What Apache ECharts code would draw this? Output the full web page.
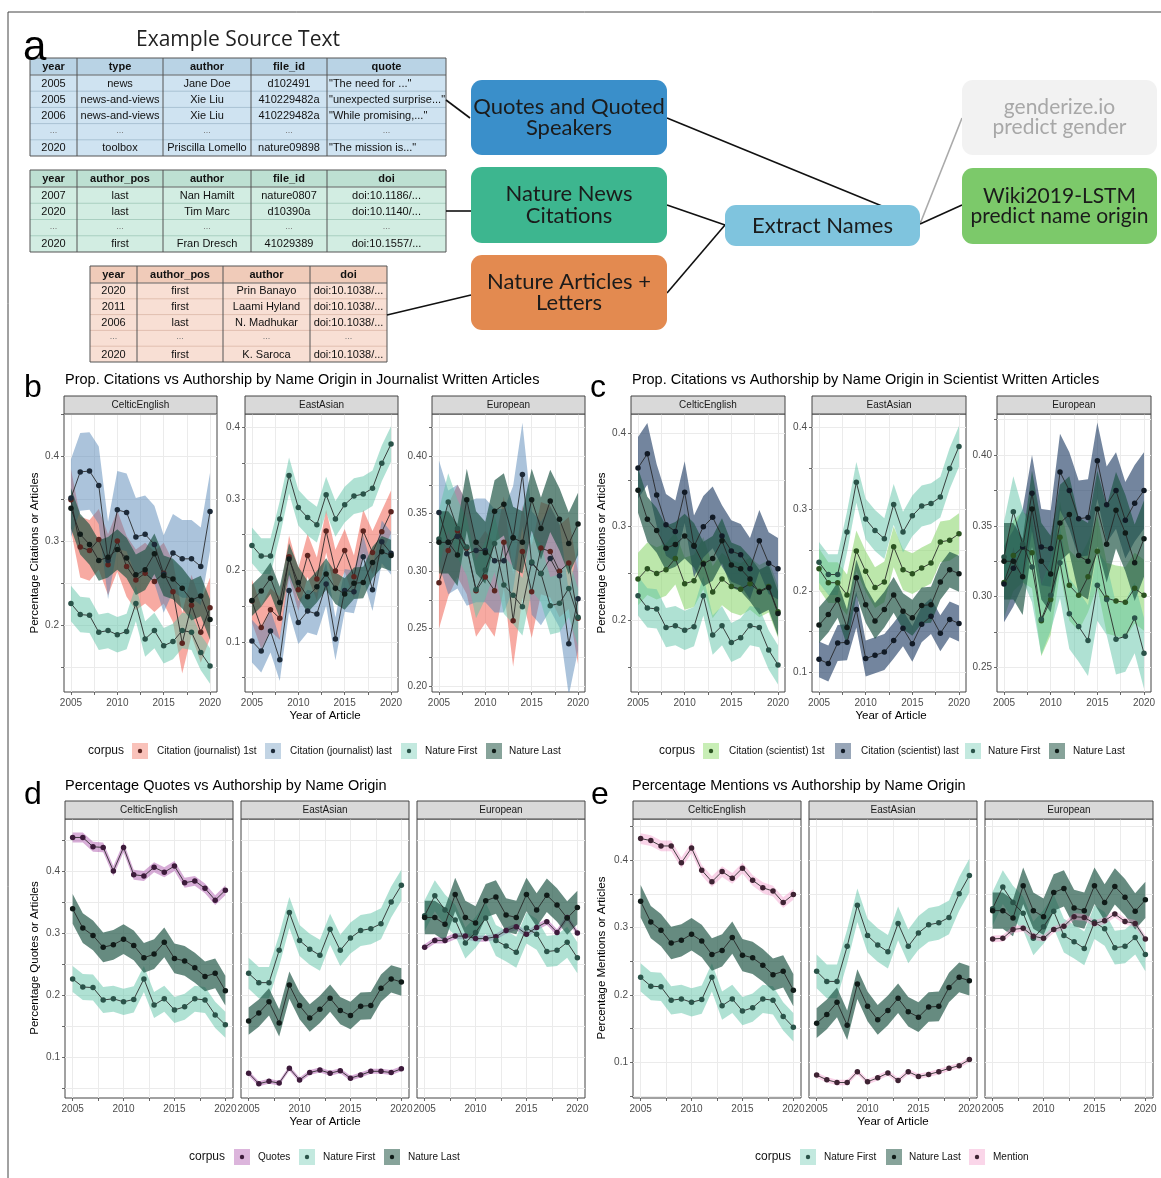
<!DOCTYPE html>
<html><head><meta charset="utf-8">
<script src="https://cdn.jsdelivr.net/npm/echarts@6/dist/echarts.min.js"></script>
<style>html,body{margin:0;padding:0;background:#fff}#c{width:1161px;height:1178px}</style>
</head><body><div id="c"></div>
<script>
// ---------------- DATA ----------------
const years = [2005,2006,2007,2008,2009,2010,2011,2012,2013,2014,2015,2016,2017,2018,2019,2020];
const regions = ['CelticEnglish','EastAsian','European'];

const natureFirstCeltic   = [0.226,0.213,0.212,0.192,0.194,0.189,0.193,0.226,0.184,0.194,0.176,0.181,0.194,0.192,0.168,0.152];
const natureFirstEastAsian= [0.235,0.220,0.220,0.272,0.333,0.288,0.274,0.264,0.306,0.272,0.292,0.304,0.307,0.315,0.350,0.377];
const natureFirstEuropean = [0.328,0.360,0.337,0.321,0.284,0.301,0.324,0.288,0.279,0.269,0.308,0.298,0.270,0.272,0.285,0.260];

const natureLastCeltic    = [0.339,0.308,0.296,0.277,0.281,0.290,0.280,0.260,0.266,0.285,0.259,0.255,0.244,0.230,0.235,0.207];
const natureLastEastAsian = [0.158,0.171,0.189,0.155,0.216,0.183,0.163,0.177,0.195,0.175,0.167,0.182,0.183,0.211,0.226,0.221];
const natureLastEuropean  = [0.325,0.325,0.314,0.362,0.325,0.316,0.352,0.358,0.329,0.325,0.362,0.337,0.361,0.345,0.324,0.341];

const journalist1stCeltic    = [0.349,0.293,0.289,0.302,0.272,0.300,0.270,0.254,0.262,0.252,0.262,0.240,0.179,0.224,0.192,0.221];
const journalist1stEastAsian = [0.157,0.120,0.145,0.133,0.219,0.173,0.221,0.188,0.255,0.199,0.228,0.191,0.255,0.225,0.254,0.282];
const journalist1stEuropean  = [0.290,0.318,0.335,0.320,0.283,0.295,0.283,0.325,0.257,0.317,0.282,0.320,0.317,0.300,0.307,0.259];

const journalistLastCeltic    = [0.351,0.382,0.383,0.366,0.277,0.337,0.334,0.305,0.308,0.296,0.261,0.286,0.279,0.279,0.270,0.335];
const journalistLastEastAsian = [0.101,0.087,0.115,0.075,0.172,0.127,0.143,0.139,0.181,0.104,0.172,0.170,0.219,0.173,0.240,0.224];
const journalistLastEuropean  = [0.351,0.325,0.330,0.315,0.318,0.318,0.309,0.309,0.329,0.384,0.307,0.298,0.311,0.296,0.237,0.276];

const scientist1stCeltic    = [0.244,0.255,0.250,0.254,0.266,0.239,0.242,0.261,0.230,0.244,0.236,0.233,0.239,0.231,0.236,0.209];
const scientist1stEastAsian = [0.227,0.210,0.210,0.195,0.249,0.224,0.204,0.211,0.254,0.226,0.221,0.228,0.234,0.260,0.262,0.270];
const scientist1stEuropean  = [0.310,0.329,0.335,0.331,0.283,0.298,0.342,0.308,0.301,0.314,0.332,0.299,0.297,0.296,0.306,0.301];

const scientistLastCeltic    = [0.363,0.378,0.334,0.302,0.295,0.337,0.279,0.300,0.310,0.290,0.274,0.270,0.255,0.285,0.261,0.255];
const scientistLastEastAsian = [0.116,0.111,0.136,0.137,0.177,0.117,0.121,0.125,0.139,0.154,0.135,0.159,0.169,0.148,0.165,0.160];
const scientistLastEuropean  = [0.309,0.320,0.335,0.373,0.335,0.334,0.388,0.375,0.355,0.356,0.396,0.365,0.375,0.354,0.366,0.375];

const quotesCeltic    = [0.454,0.454,0.439,0.438,0.400,0.438,0.394,0.392,0.406,0.398,0.408,0.381,0.384,0.372,0.353,0.369];
const quotesEastAsian = [0.074,0.057,0.061,0.058,0.082,0.063,0.075,0.079,0.074,0.078,0.066,0.071,0.077,0.077,0.075,0.081];
const quotesEuropean  = [0.277,0.288,0.288,0.295,0.295,0.291,0.291,0.294,0.304,0.310,0.298,0.309,0.318,0.301,0.325,0.300];

const mentionCeltic    = [0.432,0.429,0.421,0.421,0.396,0.418,0.385,0.368,0.383,0.373,0.388,0.370,0.359,0.354,0.337,0.349];
const mentionEastAsian = [0.081,0.074,0.070,0.070,0.086,0.071,0.077,0.084,0.073,0.086,0.079,0.082,0.086,0.091,0.095,0.104];
const mentionEuropean  = [0.283,0.284,0.297,0.299,0.287,0.284,0.297,0.302,0.316,0.315,0.306,0.310,0.320,0.309,0.306,0.283];

// ribbon half widths (Celtic, EastAsian, European)
const natureFirstBand    = [0.021,0.025,0.025];
const natureLastBand     = [0.024,0.022,0.027];
const journalist1stBand  = [0.036,0.030,0.040];
const journalistLastBand = [0.046,0.030,0.045];
const scientist1stBand   = [0.028,0.025,0.025];
const scientistLastBand  = [0.033,0.022,0.027];
const quotesBand         = [0.008,0.004,0.005];
const mentionBand        = [0.008,0.004,0.005];

// tick labels
const xLabelValues = [2005,2010,2015,2020];
const xGridValues  = [2005,2007.5,2010,2012.5,2015,2017.5,2020];
const yLabelsTenths = [0.1,0.2,0.3,0.4];
const yGridTenths   = [0.05,0.1,0.15,0.2,0.25,0.3,0.35,0.4,0.45];
const yLabelsTwentieths = [0.2,0.25,0.3,0.35,0.4];
const yGridTwentieths   = [0.2,0.225,0.25,0.275,0.3,0.325,0.35,0.375,0.4,0.425];

// ---------------- STYLE ----------------
const FONT = '"Liberation Sans", Arial, sans-serif';
const corpusStyle = {
  'Citation (journalist) 1st':  {fill:'rgba(240,100,85,0.55)',  key:'#f9c2ba', dot:'#5b2520'},
  'Citation (journalist) last': {fill:'rgba(80,130,180,0.48)',  key:'#c2d4e4', dot:'#1d2a38'},
  'Nature First':               {fill:'rgba(95,195,168,0.5)',   key:'#c3e9df', dot:'#2a5349'},
  'Nature Last':                {fill:'rgba(30,84,68,0.68)',    key:'#87a39a', dot:'#101b18'},
  'Citation (scientist) 1st':   {fill:'rgba(140,214,110,0.58)', key:'#c8eeb6', dot:'#2b5321'},
  'Citation (scientist) last':  {fill:'rgba(42,70,108,0.66)',   key:'#98a6b8', dot:'#111a25'},
  'Quotes':                     {fill:'rgba(160,60,160,0.42)',  key:'#dcb5dc', dot:'#3d1b3b'},
  'Mention':                    {fill:'rgba(240,150,200,0.42)', key:'#fad6e9', dot:'#3e2333'}
};

const panels = [
  {letter:'b', top:414, height:278, width:153, lefts:[64,245,432],
   ranges:[[0.1212,0.4506],[0.0297,0.419],[0.195,0.4365]],
   yLabels:[yLabelsTenths,yLabelsTenths,yLabelsTwentieths], yGrids:[yGridTenths,yGridTenths,yGridTwentieths],
   digits:[1,1,2], showY:[true,true,true],
   corpora:[
     ['Citation (journalist) 1st',[journalist1stCeltic,journalist1stEastAsian,journalist1stEuropean],journalist1stBand],
     ['Citation (journalist) last',[journalistLastCeltic,journalistLastEastAsian,journalistLastEuropean],journalistLastBand],
     ['Nature First',[natureFirstCeltic,natureFirstEastAsian,natureFirstEuropean],natureFirstBand],
     ['Nature Last',[natureLastCeltic,natureLastEastAsian,natureLastEuropean],natureLastBand]]},
  {letter:'c', top:414, height:278, width:154, lefts:[631,812,997],
   ranges:[[0.123,0.4207],[0.076,0.4168],[0.2327,0.429]],
   yLabels:[yLabelsTenths,yLabelsTenths,yLabelsTwentieths], yGrids:[yGridTenths,yGridTenths,yGridTwentieths],
   digits:[1,1,2], showY:[true,true,true],
   corpora:[
     ['Citation (scientist) 1st',[scientist1stCeltic,scientist1stEastAsian,scientist1stEuropean],scientist1stBand],
     ['Citation (scientist) last',[scientistLastCeltic,scientistLastEastAsian,scientistLastEuropean],scientistLastBand],
     ['Nature First',[natureFirstCeltic,natureFirstEastAsian,natureFirstEuropean],natureFirstBand],
     ['Nature Last',[natureLastCeltic,natureLastEastAsian,natureLastEuropean],natureLastBand]]},
  {letter:'d', top:819, height:279, width:168, lefts:[65,241,417],
   ranges:[[0.034,0.4838],[0.034,0.4838],[0.034,0.4838]],
   yLabels:[yLabelsTenths,yLabelsTenths,yLabelsTenths], yGrids:[yGridTenths,yGridTenths,yGridTenths],
   digits:[1,1,1], showY:[true,false,false],
   corpora:[
     ['Quotes',[quotesCeltic,quotesEastAsian,quotesEuropean],quotesBand],
     ['Nature First',[natureFirstCeltic,natureFirstEastAsian,natureFirstEuropean],natureFirstBand],
     ['Nature Last',[natureLastCeltic,natureLastEastAsian,natureLastEuropean],natureLastBand]]},
  {letter:'e', top:819, height:279, width:168, lefts:[633,809,985],
   ranges:[[0.047,0.461],[0.047,0.461],[0.047,0.461]],
   yLabels:[yLabelsTenths,yLabelsTenths,yLabelsTenths], yGrids:[yGridTenths,yGridTenths,yGridTenths],
   digits:[1,1,1], showY:[true,false,false],
   corpora:[
     ['Nature First',[natureFirstCeltic,natureFirstEastAsian,natureFirstEuropean],natureFirstBand],
     ['Nature Last',[natureLastCeltic,natureLastEastAsian,natureLastEuropean],natureLastBand],
     ['Mention',[mentionCeltic,mentionEastAsian,mentionEuropean],mentionBand]]}
];

const option = {animation:false, backgroundColor:'#fff', grid:[], xAxis:[], yAxis:[], series:[], graphic:[]};
const G = option.graphic;

function txt(x,y,text,size,opts){
  opts = opts||{};
  G.push({type:'text', silent:true, x:x, y:y, rotation:opts.rot||0, z:opts.z||10,
    style:{text:text, fill:opts.color||'#000', font:(opts.weight||'normal')+' '+size+'px '+(opts.family||FONT),
      textAlign:opts.align||'left', textVerticalAlign:opts.va||'middle'}});
}
function rect(x,y,w,h,fill,stroke,lw,r,z){
  G.push({type:'rect', silent:true, z:z||5, shape:{x:x,y:y,width:w,height:h,r:r||0},
    style:{fill:fill||'none', stroke:stroke||null, lineWidth:lw||0}});
}
function line(x1,y1,x2,y2,stroke,lw,z){
  G.push({type:'line', silent:true, z:z||6, shape:{x1:x1,y1:y1,x2:x2,y2:y2}, style:{stroke:stroke, lineWidth:lw}});
}

// ribbon drawn as one polygon through the axes' own coordinate mapping
function ribbonRender(params, api){
  if (params.dataIndexInside !== 0) return null;
  const n = params.dataInsideLength;
  const upper = [], lower = [];
  for (let i=0;i<n;i++){
    const x = api.value(0,i);
    upper.push(api.coord([x, api.value(2,i)]));
    lower.push(api.coord([x, api.value(1,i)]));
  }
  const pts = upper.concat(lower.reverse());
  return {type:'polygon', shape:{points:pts}, style:{fill:api.visual('color')},
    clipPath:{type:'rect', shape:{x:params.coordSys.x, y:params.coordSys.y, width:params.coordSys.width, height:params.coordSys.height}}};
}

// ---------------- FACETS ----------------
panels.forEach(p => {
  regions.forEach((reg, r) => {
    const g = option.grid.length;
    const left = p.lefts[r];
    option.grid.push({left:left, top:p.top, width:p.width, height:p.height, show:true,
      borderColor:'#444', borderWidth:1, backgroundColor:'#fff'});
    option.xAxis.push({type:'value', gridIndex:g, min:2004.25, max:2020.75,
      axisLine:{show:false},
      axisTick:{show:true, length:3, lineStyle:{color:'#444', width:0.8}, customValues:xGridValues},
      axisLabel:{customValues:xLabelValues, margin:6, fontSize:10, color:'#4d4d4d', fontFamily:FONT, formatter:v=>String(v)},
      splitLine:{show:true, lineStyle:{color:'#ebebeb', width:1}}});
    const dg = p.digits[r];
    option.yAxis.push({type:'value', gridIndex:g, min:p.ranges[r][0], max:p.ranges[r][1],
      axisLine:{show:false},
      axisTick:{show:p.showY[r], length:3, lineStyle:{color:'#444', width:0.8}, customValues:p.yGrids[r]},
      axisLabel:{show:p.showY[r], customValues:p.yLabels[r], margin:5, fontSize:10, color:'#4d4d4d', fontFamily:FONT,
        formatter:v=>Number(v).toFixed(dg)},
      splitLine:{show:true, lineStyle:{color:'#ebebeb', width:1}}});
    // strip
    rect(left, p.top-18, p.width, 18, '#d9d9d9', '#444', 1, 0, 5);
    txt(left+p.width/2, p.top-9, reg, 10, {align:'center', color:'#1a1a1a'});
    // ribbons
    p.corpora.forEach((c, ci) => {
      const vals = c[1][r], half = c[2][r], st = corpusStyle[c[0]];
      option.series.push({type:'custom', name:c[0]+' band', xAxisIndex:g, yAxisIndex:g, z:1, silent:true,
        renderItem:ribbonRender, itemStyle:{color:st.fill},
        encode:{x:0, y:[1,2]},
        data:years.map((y,i)=>[y, vals[i]-half, vals[i]+half])});
    });
    // lines + points
    p.corpora.forEach((c, ci) => {
      const vals = c[1][r], st = corpusStyle[c[0]];
      option.series.push({type:'line', name:c[0], xAxisIndex:g, yAxisIndex:g, z:3,
        data:years.map((y,i)=>[y, vals[i]]), symbol:'circle', symbolSize:5.5, showSymbol:true, silent:true,
        itemStyle:{color:st.dot}, lineStyle:{color:'rgba(35,35,35,0.85)', width:1}});
    });
  });
});

// ---------------- PANEL TEXTS ----------------
txt(23,48,'a',42,{});
txt(24,388,'b',32,{});
txt(590,388,'c',32,{});
txt(24,795,'d',32,{});
txt(591,795,'e',32,{});

txt(65,380,'Prop. Citations vs Authorship by Name Origin in Journalist Written Articles',14.5,{});
txt(632,380,'Prop. Citations vs Authorship by Name Origin in Scientist Written Articles',14.5,{});
txt(65,786,'Percentage Quotes vs Authorship by Name Origin',14.5,{});
txt(632,786,'Percentage Mentions vs Authorship by Name Origin',14.5,{});

txt(325,716,'Year of Article',11.5,{align:'center'});
txt(891,716,'Year of Article',11.5,{align:'center'});
txt(325,1122,'Year of Article',11.5,{align:'center'});
txt(893,1122,'Year of Article',11.5,{align:'center'});
txt(35,553,'Percentage Citations or Articles',11.5,{align:'center', rot:Math.PI/2});
txt(602,553,'Percentage Citations or Articles',11.5,{align:'center', rot:Math.PI/2});
txt(35,958,'Percentage Quotes or Articles',11.5,{align:'center', rot:Math.PI/2});
txt(602,958,'Percentage Mentions or Articles',11.5,{align:'center', rot:Math.PI/2});

// legends
function legendRow(y, corpusX, items){
  txt(corpusX, y, 'corpus', 12, {color:'#111'});
  items.forEach(it => {
    const st = corpusStyle[it[0]];
    rect(it[1], y-8, 16, 16, st.key, null, 0, 0, 5);
    G.push({type:'circle', silent:true, z:6, shape:{cx:it[1]+8, cy:y, r:2.2}, style:{fill:st.dot}});
    txt(it[2], y, it[0], 10, {color:'#111'});
  });
}
legendRow(751, 88, [['Citation (journalist) 1st',132,157],['Citation (journalist) last',265,290],['Nature First',401,425],['Nature Last',486,509]]);
legendRow(751, 659, [['Citation (scientist) 1st',703,729],['Citation (scientist) last',835,861],['Nature First',965,988],['Nature Last',1049,1073]]);
legendRow(1157, 189, [['Quotes',234,258],['Nature First',299,323],['Nature Last',384,408]]);
legendRow(1157, 755, [['Nature First',800,824],['Nature Last',886,909],['Mention',969,993]]);

// ---------------- PANEL A ----------------
const table1Cols = ['year','type','author','file_id','quote'];
const table1Rows = [
  ['2005','news','Jane Doe','d102491','"The need for ..."'],
  ['2005','news-and-views','Xie Liu','410229482a','"unexpected surprise..."'],
  ['2006','news-and-views','Xie Liu','410229482a','"While promising,..."'],
  ['...','...','...','...','...'],
  ['2020','toolbox','Priscilla Lomello','nature09898','"The mission is..."']];
const table2Cols = ['year','author_pos','author','file_id','doi'];
const table2Rows = [
  ['2007','last','Nan Hamilt','nature0807','doi:10.1186/...'],
  ['2020','last','Tim Marc','d10390a','doi:10.1140/...'],
  ['...','...','...','...','...'],
  ['2020','first','Fran Dresch','41029389','doi:10.1557/...']];
const table3Cols = ['year','author_pos','author','doi'];
const table3Rows = [
  ['2020','first','Prin Banayo','doi:10.1038/...'],
  ['2011','first','Laami Hyland','doi:10.1038/...'],
  ['2006','last','N. Madhukar','doi:10.1038/...'],
  ['...','...','...','...'],
  ['2020','first','K. Saroca','doi:10.1038/...']];

function drawTable(edges, y0, headH, rowH, cols, rows, headFill, bodyFill, rowLine, leftCol){
  const x0 = edges[0], x1 = edges[edges.length-1];
  const h = headH + rowH*rows.length;
  rect(x0, y0, x1-x0, h, bodyFill, null, 0, 0, 4);
  rect(x0, y0, x1-x0, headH, headFill, null, 0, 0, 4);
  for (let i=1;i<rows.length;i++){
    const yy = y0+headH+rowH*i;
    line(x0, yy, x1, yy, rowLine, 1, 5);
  }
  line(x0, y0+headH, x1, y0+headH, '#666', 1, 5);
  for (let j=1;j<edges.length-1;j++) line(edges[j], y0, edges[j], y0+h, '#555', 1, 5);
  rect(x0, y0, x1-x0, h, 'none', '#555', 1, 0, 6);
  cols.forEach((c,j)=> txt((edges[j]+edges[j+1])/2, y0+headH/2+0.5, c, 11, {align:'center', weight:'bold', color:'#111'}));
  rows.forEach((row,i)=> row.forEach((v,j)=>{
    const cy = y0+headH+rowH*i+rowH/2+0.5;
    if (v === '...') { txt((edges[j]+edges[j+1])/2, cy-2, '...', 9, {align:'center', color:'#777'}); return; }
    if (j === leftCol) txt(edges[j]+2, cy, v, 11, {color:'#111'});
    else txt((edges[j]+edges[j+1])/2, cy, v, 11, {align:'center', color:'#111'});
  }));
}
txt(238,40,'Example Source Text',21,{align:'center', family:'"Open Sans", sans-serif', color:'#222'});
drawTable([30,77,163,251,327,446], 58, 17, 16.2, table1Cols, table1Rows, '#b9d3e5', '#cfe3f1', '#a9c2d3', 4);
drawTable([30,77,163,251,327,446], 170, 17, 16.25, table2Cols, table2Rows, '#bde0d2', '#d2ede2', '#a9cfc0', -1);
drawTable([90,137,223,310,387], 266, 17, 15.8, table3Cols, table3Rows, '#f0cbb9', '#f8dfd4', '#e1bfb0', -1);

// flow connectors
line(446,100,470,118,'#111',1.6);
line(446,211,471,211,'#111',1.6);
line(387,315,471,295,'#111',1.6);
line(667,118,921,222,'#111',1.6);
line(667,205,725,225,'#111',1.6);
line(667,293,725,225,'#111',1.6);
line(920,224,962,118,'#aaaaaa',1.6);
line(920,224,962,205,'#111',1.6);

function box(x,y,w,h,fill,lines,color,size){
  rect(x,y,w,h,fill,null,0,11,7);
  const n = lines.length, lh = size*0.97;
  lines.forEach((l,i)=> txt(x+w/2, y+h/2 + (i-(n-1)/2)*lh, l, size, {align:'center', color:color, family:'Lato, "Open Sans", sans-serif', z:8}));
}
box(471,80,196,75,'#3a8fca',['Quotes and Quoted','Speakers'],'#1b1b1b',22);
box(471,167,196,76,'#3db68f',['Nature News','Citations'],'#1b1b1b',22);
box(471,255,196,75,'#e38a50',['Nature Articles +','Letters'],'#1b1b1b',22);
box(725,205,195,41,'#7fc4de',['Extract Names'],'#1b1b1b',22);
box(962,80,195,75,'#f2f2f2',['genderize.io','predict gender'],'#a8a8a8',21);
box(962,168,195,76,'#7cc96a',['Wiki2019-LSTM','predict name origin'],'#1b1b1b',21);

// frame
line(8,12,1161,12,'#444',1);
line(8,12,8,1178,'#444',1);

const chart = echarts.init(document.getElementById('c'), null, {renderer:'canvas', width:1161, height:1178});
chart.setOption(option);
</script>
</body></html>
